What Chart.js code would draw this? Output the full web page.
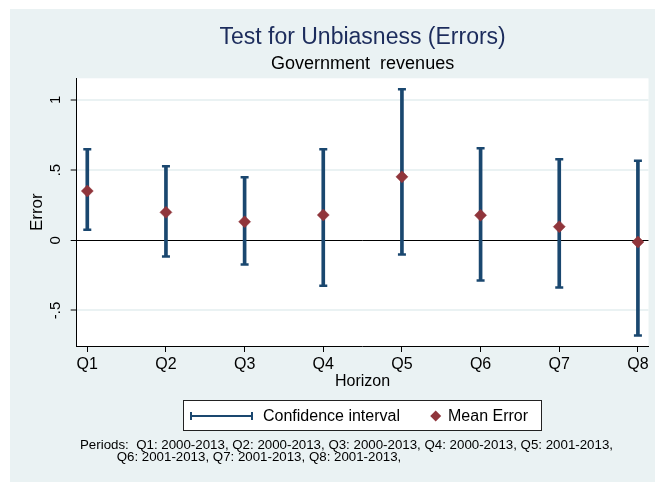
<!DOCTYPE html>
<html>
<head>
<meta charset="utf-8">
<script src="https://cdn.jsdelivr.net/npm/chart.js@4.4.1/dist/chart.umd.min.js"></script>
<style>
  html, body { margin: 0; padding: 0; background: #fff; overflow: hidden; }
  #wrap { width: 655px; height: 482px; position: relative; }
</style>
</head>
<body>
<div id="wrap"><canvas id="c" width="655" height="482"></canvas></div>
<script>
// Forecast horizons and the estimated mean error with its confidence interval
const horizons = ['Q1', 'Q2', 'Q3', 'Q4', 'Q5', 'Q6', 'Q7', 'Q8'];
const meanError = [0.351, 0.199, 0.132, 0.180, 0.452, 0.178, 0.097, -0.012];
const ciLower = [0.076, -0.116, -0.173, -0.323, -0.102, -0.287, -0.337, -0.678];
const ciUpper = [0.649, 0.528, 0.450, 0.649, 1.076, 0.656, 0.578, 0.566];
const periods = ['2000-2013', '2000-2013', '2000-2013', '2000-2013',
                 '2001-2013', '2001-2013', '2001-2013', '2001-2013'];
const yTickValues = [-0.5, 0, 0.5, 1];
const yTickLabels = ['-.5', '0', '.5', '1'];

const FONT = "'Liberation Sans', Arial, Helvetica, sans-serif";
const NAVY = '#1a476f';
const MAROON = '#90353b';
const BG = '#eaf2f3';

const xy = (vals) => vals.map((v, i) => ({ x: i + 1, y: v }));

// Page background, white plot region
const framePlugin = {
  id: 'frame',
  beforeDraw(chart) {
    const { ctx, chartArea: a } = chart;
    ctx.save();
    ctx.fillStyle = '#fff';
    ctx.fillRect(0, 0, chart.width, chart.height);
    ctx.fillStyle = BG;
    ctx.fillRect(10, 9, chart.width - 10, chart.height - 9);
    ctx.fillStyle = '#fff';
    ctx.fillRect(a.left, a.top, a.right - a.left, a.bottom - a.top);
    ctx.restore();
  }
};

// Vertical y tick labels, legend box and period note
const decorPlugin = {
  id: 'decor',
  afterDraw(chart) {
    const { ctx } = chart;
    const ys = chart.scales.y;
    ctx.save();
    ctx.fillStyle = '#000';
    ctx.font = '15px ' + FONT;
    ctx.textAlign = 'center';
    ctx.textBaseline = 'middle';
    yTickValues.forEach((v, i) => {
      const py = ys.getPixelForValue(v);
      ctx.save();
      ctx.translate(56, py);
      ctx.rotate(-Math.PI / 2);
      ctx.fillText(yTickLabels[i], 0, 0);
      ctx.restore();
    });

    // legend
    const lx = 183.5, ly = 400.5, lw = 358, lh = 30;
    ctx.fillStyle = '#fff';
    ctx.fillRect(lx, ly, lw, lh);
    ctx.strokeStyle = '#222';
    ctx.lineWidth = 1;
    ctx.strokeRect(lx, ly, lw, lh);
    const cy = 416;
    ctx.strokeStyle = NAVY;
    ctx.lineWidth = 2;
    ctx.beginPath();
    ctx.moveTo(191, cy); ctx.lineTo(252, cy);
    ctx.moveTo(191, cy - 4); ctx.lineTo(191, cy + 4);
    ctx.moveTo(252, cy - 4); ctx.lineTo(252, cy + 4);
    ctx.stroke();
    ctx.fillStyle = '#000';
    ctx.font = '16px ' + FONT;
    ctx.textAlign = 'left';
    ctx.textBaseline = 'middle';
    ctx.fillText('Confidence interval', 263, cy + 1);
    ctx.fillStyle = MAROON;
    ctx.beginPath();
    ctx.moveTo(435.7 - 5.5, cy); ctx.lineTo(435.7, cy - 5.5);
    ctx.lineTo(435.7 + 5.5, cy); ctx.lineTo(435.7, cy + 5.5);
    ctx.closePath(); ctx.fill();
    ctx.fillStyle = '#000';
    ctx.fillText('Mean Error', 448, cy + 1);

    // period note
    const items = horizons.map((q, i) => q + ': ' + periods[i] + ',');
    ctx.font = '13.3px ' + FONT;
    ctx.fillText('Periods:  ' + items.slice(0, 5).join(' '), 80, 445);
    ctx.fillText(items.slice(5).join(' '), 116.7, 457.5);
    ctx.restore();
  }
};

new Chart(document.getElementById('c'), {
  type: 'bar',
  data: {
    datasets: [
      {
        label: 'Confidence interval',
        type: 'bar',
        data: horizons.map((q, i) => ({ x: i + 1, y: [ciLower[i], ciUpper[i]] })),
        backgroundColor: NAVY,
        borderWidth: 0,
        barThickness: 3,
        grouped: false,
        order: 3
      },
      {
        label: 'upper cap',
        type: 'scatter',
        data: xy(ciUpper),
        pointStyle: 'line',
        pointRadius: 4,
        pointBorderWidth: 2.5,
        pointBorderColor: NAVY,
        order: 2
      },
      {
        label: 'lower cap',
        type: 'scatter',
        data: xy(ciLower),
        pointStyle: 'line',
        pointRadius: 4,
        pointBorderWidth: 2.5,
        pointBorderColor: NAVY,
        order: 2
      },
      {
        label: 'Mean Error',
        type: 'scatter',
        data: xy(meanError),
        pointStyle: 'rectRot',
        pointRadius: 6,
        pointBackgroundColor: MAROON,
        pointBorderColor: MAROON,
        pointBorderWidth: 0.5,
        order: 1
      }
    ]
  },
  options: {
    responsive: false,
    animation: false,
    devicePixelRatio: 1,
    events: [],
    layout: { padding: { left: 0, top: 0, right: 5.7, bottom: 0 } },
    plugins: {
      legend: { display: false },
      tooltip: { enabled: false },
      title: {
        display: true,
        text: 'Test for Unbiasness (Errors)',
        color: '#1c2c5c',
        font: { family: FONT, size: 23, weight: 'normal' },
        padding: { top: 24.2, bottom: 0 },
        fullSize: false
      },
      subtitle: {
        display: true,
        text: 'Government  revenues',
        color: '#000',
        font: { family: FONT, size: 18, weight: 'normal' },
        padding: { top: 1.4, bottom: 3.5 },
        fullSize: false
      }
    },
    scales: {
      x: {
        type: 'linear',
        offset: false,
        min: 0.8654,
        max: 8.1346,
        afterBuildTicks: (s) => { s.ticks = horizons.map((q, i) => ({ value: i + 1 })); },
        afterFit: (s) => { s.height = 136; },
        ticks: {
          callback: (v) => horizons[Math.round(v) - 1],
          color: '#000',
          font: { family: FONT, size: 16 },
          padding: 3,
          autoSkip: false,
          maxRotation: 0
        },
        grid: { offset: false, drawOnChartArea: false, drawTicks: true, tickLength: 6, tickColor: '#000', tickWidth: 1 },
        border: { color: '#000', width: 1 },
        title: {
          display: true,
          text: 'Horizon',
          color: '#000',
          font: { family: FONT, size: 16 },
          padding: { top: 0, bottom: 90.4 }
        }
      },
      y: {
        type: 'linear',
        min: -0.753,
        max: 1.154,
        afterBuildTicks: (s) => { s.ticks = yTickValues.map((v) => ({ value: v })); },
        afterFit: (s) => { s.width = 76.7; },
        ticks: { display: false },
        grid: {
          color: (c) => (c.tick && c.tick.value === 0 ? '#000' : BG),
          lineWidth: (c) => (c.tick && c.tick.value === 0 ? 1 : 2),
          drawTicks: true,
          tickLength: 6,
          tickColor: '#000',
          tickWidth: 1
        },
        border: { color: '#000', width: 1 },
        title: {
          display: true,
          text: 'Error',
          color: '#000',
          font: { family: FONT, size: 17 },
          padding: { top: 27.1, bottom: 0 }
        }
      }
    }
  },
  plugins: [framePlugin, decorPlugin]
});
</script>
</body>
</html>
